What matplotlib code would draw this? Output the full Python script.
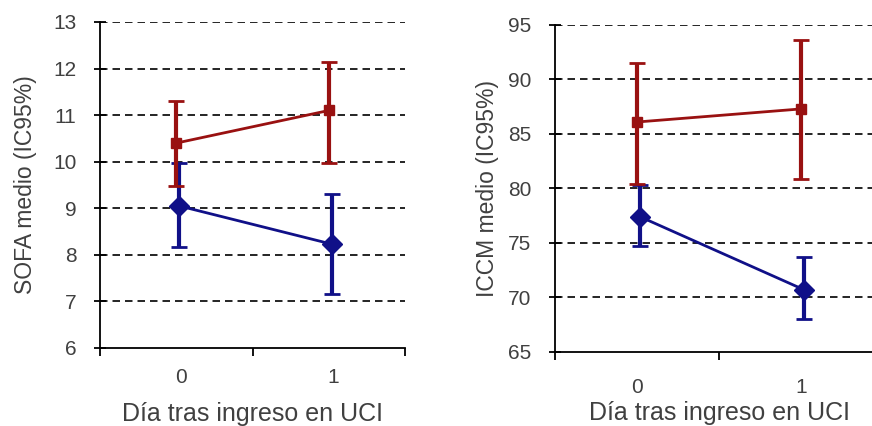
import matplotlib
matplotlib.use("Agg")
import matplotlib.pyplot as plt
from matplotlib.ticker import FixedLocator, NullFormatter

days = [0, 1]
day_labels = ["0", "1"]

sofa_red = [10.4, 11.1]
sofa_red_lo = [9.47, 9.97]
sofa_red_hi = [11.3, 12.15]
sofa_blue = [9.05, 8.23]
sofa_blue_lo = [8.17, 7.17]
sofa_blue_hi = [9.97, 9.3]

iccm_red = [86.1, 87.3]
iccm_red_lo = [80.4, 80.9]
iccm_red_hi = [91.5, 93.65]
iccm_blue = [77.4, 70.7]
iccm_blue_lo = [74.7, 68.0]
iccm_blue_hi = [80.3, 73.7]

RED = "#991111"
BLUE = "#101088"
TXT = "#404040"

plt.rcParams["font.family"] = ["Liberation Sans", "DejaVu Sans"]

fig = plt.figure(figsize=(8.72, 4.26), dpi=100)
W, H = 872., 426.


def panel(rect, yticks, ylabel, red, rlo, rhi, blue, blo, bhi,
          ylab_x, xlab_y, tick_y, dx_lab):
  ax = fig.add_axes(rect)
  ax.set_xlim(-0.5, 1.5)
  ax.set_ylim(yticks[0], yticks[-1])
  for s in ("top", "right"):
    ax.spines[s].set_visible(False)
  for s in ("left", "bottom"):
    ax.spines[s].set_linewidth(1.3)
  for y in yticks[1:]:
    ax.axhline(y, color="black", lw=1.2, ls=(0, (4.5, 3)), zorder=1)

  def series(vals, lo, hi, color, marker, ms, dx):
    x = [d + dx for d in days]
    yerr = [[v - l for v, l in zip(vals, lo)], [h - v for v, h in zip(vals, hi)]]
    ax.errorbar(x, vals, yerr=yerr, color=color, lw=2, elinewidth=3,
                capsize=6, capthick=2, marker=marker, ms=ms, zorder=3,
                clip_on=False)

  series(blue, blo, bhi, BLUE, "D", 10, 0.02)
  series(red, rlo, rhi, RED, "s", 7, 0.0)

  ax.set_yticks(yticks)
  ax.tick_params(axis="y", direction="inout", length=8, width=1.3,
                 colors="black", labelcolor=TXT, labelsize=15, pad=13)
  ax.xaxis.set_major_locator(FixedLocator([-0.5, 0.5, 1.5]))
  ax.xaxis.set_major_formatter(NullFormatter())
  ax.tick_params(axis="x", direction="out", length=6, width=1.3)
  for d, lab in zip(days, day_labels):
    ax.text(d + dx_lab, tick_y, lab, transform=ax.get_xaxis_transform(),
            ha="center", va="center", fontsize=15, color=TXT)
  ax.set_ylabel(ylabel, fontsize=16.5, color=TXT)
  ax.yaxis.set_label_coords(ylab_x, 0.5)
  ax.text(0.5, xlab_y, "Día tras ingreso en UCI", transform=ax.get_xaxis_transform(),
          ha="center", va="center", fontsize=18, color=TXT)
  return ax


panel([100 / W, 78 / H, 305 / W, 326 / H], [6, 7, 8, 9, 10, 11, 12, 13],
      "SOFA medio (IC95%)", sofa_red, sofa_red_lo, sofa_red_hi,
      sofa_blue, sofa_blue_lo, sofa_blue_hi, -0.207, -0.202, -0.092, 0.03)

panel([555 / W, 74 / H, 328 / W, 327 / H], [65, 70, 75, 80, 85, 90, 95],
      "ICCM medio (IC95%)", iccm_red, iccm_red_lo, iccm_red_hi,
      iccm_blue, iccm_blue_lo, iccm_blue_hi, -0.170, -0.188, -0.11, 0.0)

fig.savefig("out.png", dpi=100)
